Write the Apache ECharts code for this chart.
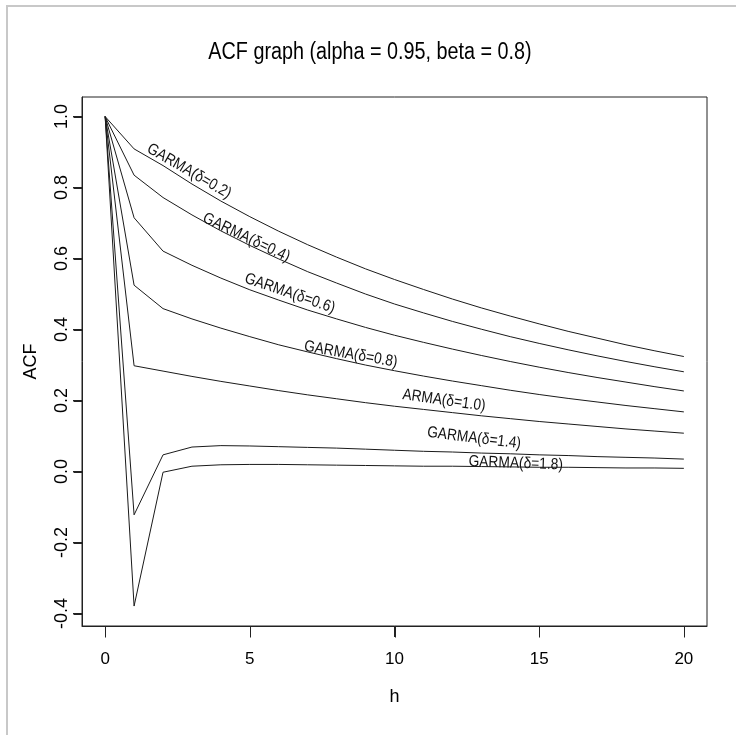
<!DOCTYPE html>
<html>
<head>
<meta charset="utf-8">
<title>ACF graph</title>
<script src="https://cdn.jsdelivr.net/npm/echarts@6/dist/echarts.min.js"></script>
<style>
  html, body { margin: 0; padding: 0; background: #fff; }
  #chart { width: 736px; height: 735px; }
</style>
</head>
<body>
<div id="chart"></div>
<script>
// lag h
const lags = [0, 1, 2, 3, 4, 5, 6, 7, 8, 9, 10, 11, 12, 13, 14, 15, 16, 17, 18, 19, 20];

// ACF values, one list per curve
const garma02 = [1.0, 0.909, 0.862, 0.810, 0.762, 0.718, 0.677, 0.639, 0.604, 0.571, 0.541, 0.513, 0.486, 0.461, 0.438, 0.416, 0.395, 0.376, 0.357, 0.340, 0.324];
const garma04 = [1.0, 0.835, 0.772, 0.723, 0.678, 0.637, 0.599, 0.563, 0.531, 0.500, 0.472, 0.447, 0.423, 0.401, 0.380, 0.361, 0.343, 0.326, 0.310, 0.295, 0.281];
const garma06 = [1.0, 0.715, 0.621, 0.581, 0.545, 0.512, 0.483, 0.455, 0.430, 0.406, 0.384, 0.364, 0.345, 0.327, 0.310, 0.294, 0.279, 0.265, 0.252, 0.239, 0.227];
const garma08 = [1.0, 0.525, 0.459, 0.430, 0.404, 0.380, 0.357, 0.337, 0.318, 0.300, 0.284, 0.269, 0.255, 0.242, 0.229, 0.217, 0.206, 0.196, 0.186, 0.177, 0.168];
const arma10  = [1.0, 0.298, 0.283, 0.268, 0.254, 0.241, 0.228, 0.216, 0.205, 0.194, 0.184, 0.175, 0.166, 0.157, 0.149, 0.141, 0.134, 0.127, 0.120, 0.114, 0.108];
const garma14 = [1.0, -0.122, 0.047, 0.069, 0.073, 0.072, 0.070, 0.068, 0.066, 0.063, 0.060, 0.057, 0.055, 0.052, 0.050, 0.047, 0.045, 0.042, 0.040, 0.038, 0.035];
const garma18 = [1.0, -0.379, -0.002, 0.015, 0.019, 0.020, 0.020, 0.019, 0.018, 0.017, 0.016, 0.015, 0.015, 0.014, 0.013, 0.012, 0.012, 0.011, 0.010, 0.010, 0.009];

const curves = [garma02, garma04, garma06, garma08, arma10, garma14, garma18];
const curveNames = ['GARMA(δ=0.2)', 'GARMA(δ=0.4)', 'GARMA(δ=0.6)', 'GARMA(δ=0.8)', 'ARMA(δ=1.0)', 'GARMA(δ=1.4)', 'GARMA(δ=1.8)'];

// where the curve labels sit (h, ACF) and how much they lean
const labelSpots = [[2.90, 0.846], [4.88, 0.659], [6.38, 0.502], [8.49, 0.330], [11.71, 0.200], [12.75, 0.094], [14.19, 0.023]];
const labelTilt = [30, 25.5, 19, 10, 8, 7, 2];

const xTicks = [0, 5, 10, 15, 20];
const yTicks = [-0.4, -0.2, 0.0, 0.2, 0.4, 0.6, 0.8, 1.0];

const X_MIN = -0.8, X_MAX = 20.8;
const Y_MIN = -0.4352, Y_MAX = 1.0552;

const FONT = '"Liberation Sans Narrow", "Liberation Sans", Arial, sans-serif';
const INK = '#1a1a1a';
const TICK = '#222';
// R's font here is a narrow Helvetica; squeeze the regular one to match
const NARROW = 0.86;

var chart = echarts.init(document.getElementById('chart'));

var series = curves.map(function (vals, i) {
    return {
        name: curveNames[i],
        type: 'line',
        data: lags.map(function (h, j) { return [h, vals[j]]; }),
        symbol: 'none',
        lineStyle: { color: INK, width: 1 },
        silent: true
    };
});

// R style tick marks hanging outside the box, through the axes' scales
function tickSeries(values, horizontal) {
    return {
        type: 'custom',
        silent: true,
        clip: false,
        z: 10,
        data: values.map(function (t) { return horizontal ? [t, Y_MIN] : [X_MIN, t]; }),
        renderItem: function (params, api) {
            var p = api.coord([api.value(0), api.value(1)]);
            var x = Math.round(p[0]) + 0.5, y = Math.round(p[1]) + 0.5;
            return {
                type: 'line',
                shape: horizontal
                    ? { x1: x, y1: y, x2: x, y2: y + 11 }
                    : { x1: x - 9, y1: y, x2: x, y2: y },
                style: { stroke: TICK, lineWidth: 1 }
            };
        }
    };
}
series.push(tickSeries(xTicks, true));
series.push(tickSeries(yTicks, false));

var axisEdge = function () {
    return { show: true, onZero: false, lineStyle: { color: '#222', width: 1 } };
};

chart.setOption({
    animation: false,
    backgroundColor: '#fff',
    grid: {
        left: 82, top: 97, right: 29, bottom: 109,
        show: true, borderColor: '#222', borderWidth: 1, backgroundColor: 'transparent'
    },
    xAxis: {
        type: 'value',
        min: X_MIN, max: X_MAX,
        name: 'h',
        nameLocation: 'middle',
        nameGap: 62,
        nameTextStyle: { fontFamily: FONT, fontSize: 18, color: '#000' },
        axisLine: axisEdge(),
        splitLine: { show: false },
        axisTick: { show: true, length: 11, customValues: xTicks, lineStyle: { color: TICK } },
        axisLabel: { customValues: xTicks, margin: 25, fontFamily: FONT, fontSize: 17, color: '#000' }
    },
    yAxis: {
        type: 'value',
        min: Y_MIN, max: Y_MAX,
        name: 'ACF',
        nameLocation: 'middle',
        nameRotate: 90,
        nameGap: 42,
        nameTextStyle: { fontFamily: FONT, fontSize: 18, color: '#000' },
        axisLine: axisEdge(),
        splitLine: { show: false },
        axisTick: { show: true, length: 9, customValues: yTicks, lineStyle: { color: TICK } },
        axisLabel: {
            customValues: yTicks, margin: 11, rotate: 90,
            fontFamily: FONT, fontSize: 18, color: '#000',
            formatter: function (v) { return v.toFixed(1); }
        }
    },
    series: series
});

var marks = [];

// curve labels
labelSpots.forEach(function (spot, i) {
    var p = chart.convertToPixel({ gridIndex: 0 }, spot);
    marks.push({
        type: 'text',
        x: p[0], y: p[1],
        rotation: -labelTilt[i] * Math.PI / 180,
        scaleX: NARROW,
        silent: true,
        style: {
            text: curveNames[i],
            fontFamily: FONT, fontSize: 16, fill: '#111',
            align: 'center', verticalAlign: 'middle'
        }
    });
});

// main title
marks.push({
    type: 'text',
    x: 370, y: 53,
    scaleX: NARROW,
    silent: true,
    style: {
        text: 'ACF graph (alpha = 0.95, beta = 0.8)',
        fontFamily: FONT, fontSize: 23, fill: '#000',
        align: 'center', verticalAlign: 'middle'
    }
});

// thin grey frame round the figure (only top and left edge show)
marks.push({
    type: 'rect',
    shape: { x: 7, y: 6, width: 760, height: 760 },
    style: { fill: 'none', stroke: '#c8c8c8', lineWidth: 2 },
    silent: true
});

chart.setOption({ graphic: marks });
</script>
</body>
</html>
